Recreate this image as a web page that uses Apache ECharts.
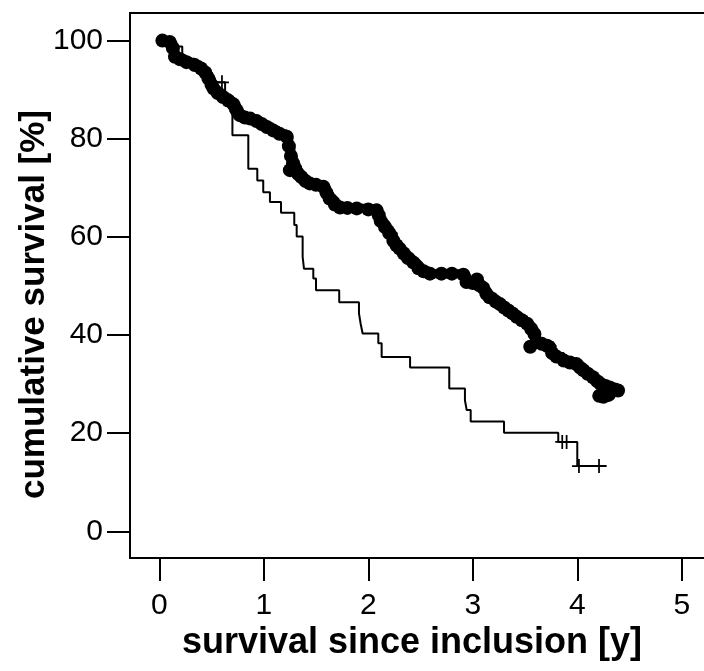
<!DOCTYPE html>
<html>
<head>
<meta charset="utf-8">
<script src="https://cdn.jsdelivr.net/npm/echarts@6/dist/echarts.min.js"></script>
<style>
html,body{margin:0;padding:0;background:#fff;}
#chart{width:704px;height:671px;}
</style>
</head>
<body>
<div id="chart"></div>
<script>
// ---- data ----
const xTicks = [0, 1, 2, 3, 4, 5];
const yTicks = [0, 20, 40, 60, 80, 100];

// thin curve (Kaplan-Meier steps: time, survival after the step)
const thinX = [0, 0.12, 0.22, 0.30, 0.40, 0.50, 0.63, 0.68, 0.70, 0.852, 0.938, 0.995, 1.059, 1.165, 1.292, 1.315, 1.372, 1.385, 1.474, 1.50, 1.722, 1.911, 1.927, 1.946, 2.096, 2.128, 2.40, 2.775, 2.925, 2.942, 2.98, 3.299, 3.818, 4.0, 4.281];
const thinY = [100, 98.8, 96.5, 95.0, 93.5, 91.5, 89.0, 85.5, 80.7, 73.9, 71.5, 69.1, 67.1, 64.9, 62.4, 60.1, 55.9, 53.5, 51.5, 49.1, 46.7, 44.4, 42.3, 40.3, 38.3, 35.5, 33.4, 29.1, 26.7, 24.7, 22.4, 20.1, 18.2, 13.3, 13.3];
const thinCensorX = [0.60, 3.856, 3.898, 4.016, 4.208];
const thinCensorY = [91.5, 18.2, 18.2, 13.3, 13.3];

// thick curve (steps with dense censoring dots)
const thickX = [0.03, 0.10, 0.13, 0.15, 0.20, 0.26, 0.34, 0.40, 0.44, 0.47, 0.50, 0.52, 0.56, 0.61, 0.66, 0.71, 0.74, 0.77, 0.82, 0.87, 0.93, 0.98, 1.03, 1.09, 1.15, 1.22, 1.24, 1.26, 1.28, 1.30, 1.33, 1.36, 1.40, 1.44, 1.50, 1.57, 1.60, 1.63, 1.68, 1.73, 1.80, 1.89, 2.00, 2.08, 2.10, 2.12, 2.16, 2.20, 2.24, 2.27, 2.30, 2.34, 2.38, 2.43, 2.48, 2.53, 2.59, 2.70, 2.80, 2.91, 2.94, 3.00, 3.06, 3.10, 3.13, 3.16, 3.22, 3.26, 3.30, 3.34, 3.38, 3.42, 3.47, 3.52, 3.56, 3.59, 3.61, 3.66, 3.71, 3.76, 3.80, 3.87, 3.93, 3.99, 4.03, 4.06, 4.10, 4.15, 4.19, 4.22, 4.27, 4.31, 4.36, 4.39];
const thickY = [100, 99.7, 98.5, 96.7, 96.2, 95.6, 95.0, 94.3, 93.5, 92.3, 91.0, 90.2, 89.3, 88.5, 87.8, 87.0, 85.8, 84.8, 84.3, 84.1, 83.6, 83.0, 82.4, 81.7, 81.0, 80.4, 78.5, 76.5, 75.0, 74.0, 72.8, 72.2, 71.4, 70.9, 70.6, 70.2, 69.0, 67.8, 66.6, 66.0, 65.9, 65.8, 65.6, 65.4, 64.4, 63.2, 62.0, 60.8, 59.2, 58.3, 57.6, 56.6, 55.7, 54.8, 53.6, 53.0, 52.5, 52.5, 52.5, 52.3, 50.8, 50.6, 50.2, 49.6, 48.4, 47.7, 46.8, 46.3, 45.6, 45.0, 44.4, 43.7, 43.0, 42.3, 41.2, 40.2, 38.6, 38.2, 37.8, 36.3, 35.6, 34.8, 34.4, 34.1, 33.3, 32.8, 32.1, 31.4, 30.6, 30.1, 29.6, 29.3, 28.9, 28.7];
const thickDotX = [1.25, 3.04, 3.55, 4.21, 4.25, 4.30];
const thickDotY = [73.6, 51.3, 37.6, 27.6, 27.4, 27.8];

// ---- chart ----
const zip = (a, b) => a.map((v, i) => [v, b[i]]);
const plusPath = 'path://M-1,-8 L1,-8 L1,8 L-1,8 Z M-8,-1 L8,-1 L8,1 L-8,1 Z';
const titleFont = '"Liberation Sans", Arial, sans-serif';

const chart = echarts.init(document.getElementById('chart'), null, {renderer: 'canvas'});
chart.setOption({
  animation: false,
  backgroundColor: '#fff',
  grid: {
    left: 130, top: 13, width: 580, height: 545,
    containLabel: false, outerBoundsMode: 'none',
    show: true, borderColor: '#000', borderWidth: 2, backgroundColor: '#fff'
  },
  xAxis: {
    type: 'value', min: -0.28, max: 5.27,
    splitLine: {show: false},
    axisLine: {show: false, onZero: false},
    axisTick: {show: true, inside: false, length: 23, customValues: xTicks, lineStyle: {color: '#000', width: 2}},
    axisLabel: {customValues: xTicks, margin: 33, color: '#000', fontSize: 30, fontFamily: 'Liberation Sans, Arial, sans-serif'},
    name: 'survival since inclusion [y]',
    nameLocation: 'middle', nameGap: 67, nameMoveOverlap: false,
    nameTextStyle: {color: '#000', fontSize: 36, fontWeight: 'bold', fontFamily: titleFont, padding: [0, 16, 0, 0]}
  },
  yAxis: {
    type: 'value', min: -5.44, max: 105.62,
    splitLine: {show: false},
    axisLine: {show: false, onZero: false},
    axisTick: {show: true, inside: false, length: 23, customValues: yTicks, lineStyle: {color: '#000', width: 2}},
    axisLabel: {customValues: yTicks, margin: 27, color: '#000', fontSize: 30, fontFamily: 'Liberation Sans, Arial, sans-serif'},
    name: 'cumulative survival [%]',
    nameLocation: 'middle', nameGap: 78, nameRotate: 90, nameMoveOverlap: false,
    nameTextStyle: {color: '#000', fontSize: 35, fontWeight: 'bold', fontFamily: titleFont, padding: [0, 38, 0, 0]}
  },
  series: [
    {
      type: 'line', step: 'end', data: zip(thickX, thickY),
      lineStyle: {color: '#000', width: 9}, itemStyle: {color: '#000', opacity: 1},
      symbol: 'circle', symbolSize: 14, showSymbol: true, showAllSymbol: true, z: 2
    },
    {
      type: 'scatter', data: zip(thickDotX, thickDotY),
      symbol: 'circle', symbolSize: 14, itemStyle: {color: '#000', opacity: 1}, z: 2
    },
    {
      type: 'line', step: 'end', data: zip(thinX, thinY),
      lineStyle: {color: '#000', width: 2}, symbol: 'none', z: 3
    },
    {
      type: 'scatter', data: zip(thinCensorX, thinCensorY),
      symbol: plusPath, symbolSize: 14, itemStyle: {color: '#000', opacity: 1}, z: 3
    }
  ]
});
</script>
</body>
</html>
